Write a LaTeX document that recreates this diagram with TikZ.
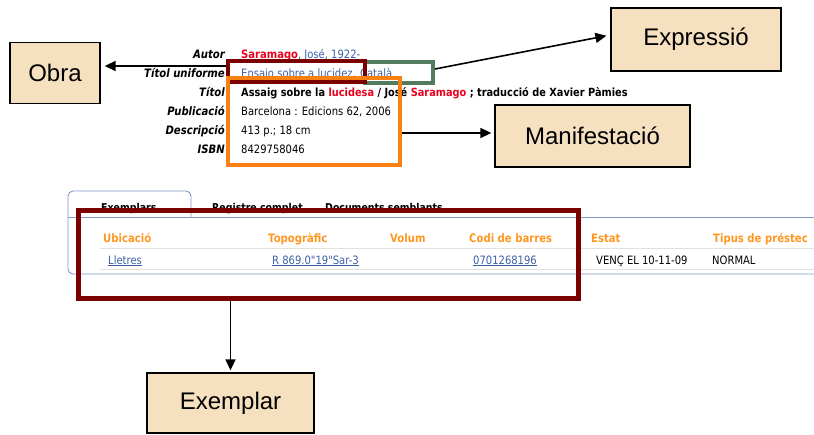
\documentclass[tikz,border=0pt]{standalone}
\usepackage{fontspec}
\usetikzlibrary{arrows.meta}
\newfontfamily\lab{Liberation Sans}
\newfontfamily\tah{DejaVu Sans}[FakeStretch=0.87]
\definecolor{dkred}{RGB}{123,0,0}
\definecolor{hlorange}{RGB}{250,128,20}
\definecolor{hlgreen}{RGB}{82,124,92}
\definecolor{wheatbox}{RGB}{245,224,192}
\definecolor{linkblue}{RGB}{60,95,165}
\definecolor{txtred}{RGB}{235,0,30}
\definecolor{hdorange}{RGB}{255,150,30}
\definecolor{tabblue}{RGB}{130,150,200}
\definecolor{sepgray}{RGB}{225,225,225}
\tikzset{
  lbl/.style={draw=black, line width=1.3pt, fill=wheatbox, font=\lab\fontsize{24}{28}\selectfont, inner sep=0pt},
  arr/.style={line width=1.6pt, -{Triangle[length=11pt,width=10pt]}},
  fname/.style={anchor=base east, inner sep=0pt, font=\tah\fontsize{11.6}{13}\selectfont\bfseries\itshape},
  fval/.style={anchor=base west, inner sep=0pt, font=\tah\fontsize{11.5}{13}\selectfont},
  hd/.style={anchor=base west, inner sep=0pt, font=\tah\fontsize{11.6}{13}\selectfont\bfseries, text=hdorange},
  tabtxt/.style={anchor=base west, inner sep=0pt, font=\tah\fontsize{10.8}{13}\selectfont\bfseries},
  hlbox/.style={draw, line width=4pt, inner sep=0pt}
}
\newcommand{\lnk}[1]{\textcolor{linkblue}{\underline{#1}}}
\begin{document}
\begin{tikzpicture}[x=1pt,y=-1pt]
\useasboundingbox (0,0) rectangle (814,434);
% catalogue record
\node[fname] (nautor) at (225,58) {Autor};
\node[fname] (nunif) at (225,77) {Títol uniforme};
\node[fname] (ntitol) at (225,96) {Títol};
\node[fname] (npub) at (225,115) {Publicació};
\node[fname] (ndesc) at (225,134) {Descripció};
\node[fname] (nisbn) at (225,153) {ISBN};
\node[fval] (vautor) at (241,58) {\textcolor{txtred}{\underline{\bfseries Saramago}}\lnk{, José, 1922-}};
\node[fval, text=linkblue] (vunif) at (241,77) {Ensaio sobre a lucidez. Català};
\node[fval, font=\tah\fontsize{11.25}{13}\selectfont\bfseries] (vtitol) at (241,96) {Assaig sobre la \textcolor{txtred}{lucidesa} / José \textcolor{txtred}{Saramago} ; traducció de Xavier Pàmies};
\node[fval] (vpub) at (241,115) {Barcelona : Edicions 62, 2006};
\node[fval] (vdesc) at (241,134) {413 p.; 18 cm};
\node[fval] (visbn) at (241,153) {8429758046};
% tabs and holdings table
\draw[tabblue, line width=0.9pt, rounded corners=5pt] (68,217) -- (68,191) -- (191,191) -- (191,217);
\draw[tabblue, line width=0.9pt] (68,217) -- (814,217);
\draw[tabblue, line width=0.9pt, rounded corners=5pt] (68,217) -- (68,274) -- (814,274);
\node[tabtxt] (tex) at (101,211) {Exemplars};
\node[tabtxt] (treg) at (212,211) {Registre complet};
\node[tabtxt] (tdoc) at (325,211) {Documents semblants};
\draw[sepgray, line width=0.8pt] (100,248) -- (814,248);
\draw[sepgray, line width=0.8pt] (100,269) -- (814,269);
\node[hd] (hubi) at (103,242) {Ubicació};
\node[hd] (htop) at (268,242) {Topogràfic};
\node[hd] (hvol) at (390,242) {Volum};
\node[hd] (hcodi) at (469,242) {Codi de barres};
\node[hd] (hest) at (591,242) {Estat};
\node[hd] (htip) at (713,242) {Tipus de préstec};
\node[fval] (dubi) at (108,264) {\lnk{Lletres}};
\node[fval] (dtop) at (272,264) {\lnk{R 869.0"19"Sar-3}};
\node[fval] (dcodi) at (473,264) {\lnk{0701268196}};
\node[fval] (dest) at (596,264) {VENÇ EL 10-11-09};
\node[fval] (dtip) at (712,264) {NORMAL};
% highlight boxes
\node[hlbox, draw=hlgreen, minimum width=68pt, minimum height=21pt] (greenbox) at (399,72) {};
\node[hlbox, draw=dkred, minimum width=137pt, minimum height=21pt] (redbox) at (296.5,71.5) {};
\node[hlbox, draw=hlorange, minimum width=172pt, minimum height=87pt] (orangebox) at (314,121.5) {};
\node[hlbox, draw=dkred, line width=5pt, minimum width=500pt, minimum height=88pt] (bigbox) at (328,254) {};
% concept boxes
\node[lbl, minimum width=90pt, minimum height=61pt] (obra) at (55,73) {Obra};
\node[lbl, minimum width=170pt, minimum height=63pt] (expr) at (696,39.5) {Expressió};
\node[lbl, minimum width=195pt, minimum height=62pt] (manif) at (592.5,136) {Manifestació};
\node[lbl, minimum width=167pt, minimum height=60pt] (exemplar) at (230.5,403) {Exemplar};
% connectors
\draw[arr, shorten >=4pt] ([yshift=5.5pt]redbox.west) -- ([yshift=7pt]obra.east);
\draw[arr, shorten >=4pt] ([yshift=3pt]greenbox.east) -- ([yshift=4.5pt]expr.west);
\draw[arr, shorten >=3pt] ([yshift=-11.5pt]orangebox.east) -- ([yshift=3pt]manif.west);
\draw[arr, shorten >=2pt] (exemplar.north |- bigbox.south) -- (exemplar.north);
\end{tikzpicture}
\end{document}
